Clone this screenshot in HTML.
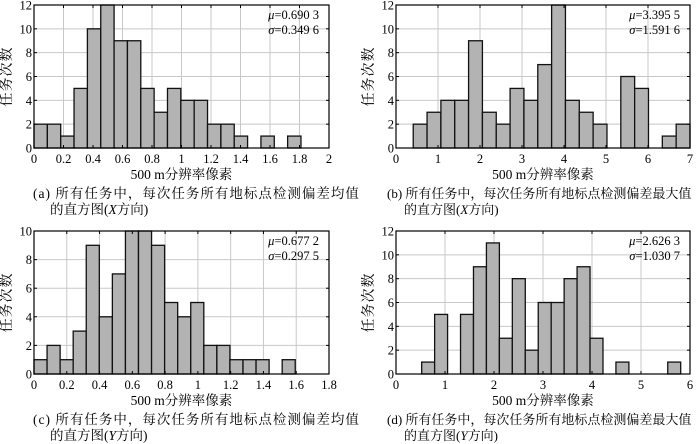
<!DOCTYPE html>
<html><head><meta charset="utf-8">
<style>
html,body{margin:0;padding:0;background:#fff;}
svg{display:block;}
text{font-family:"Liberation Serif","Noto Serif CJK SC",serif;fill:#000;}
</style></head>
<body>
<svg id="fig" width="700" height="444" viewBox="0 0 700 444" xmlns="http://www.w3.org/2000/svg"></svg>
<script>
// Panel data
const countsA = [2,2,1,5,10,12,9,9,5,3,5,4,4,2,2,1,0,1,0,1];
const countsB = [2,3,4,4,9,3,2,5,4,7,12,4,3,2,0,6,5,0,1,2];
const countsC = [1,2,1,3,9,4,7,10,10,9,5,4,5,2,2,1,1,1,0,1];
const countsD = [1,5,0,5,9,11,3,8,2,6,6,8,9,3,0,1,0,0,0,1];
const binStartA = 0, binWidthA = 0.0905;
const binStartB = 0.41, binWidthB = 0.3295;
const binStartC = 0, binWidthC = 0.0797;
const binStartD = 0.524, binWidthD = 0.2643;
const xTicksA = [0,0.2,0.4,0.6,0.8,1,1.2,1.4,1.6,1.8,2];
const xTicksB = [0,1,2,3,4,5,6,7];
const xTicksC = [0,0.2,0.4,0.6,0.8,1,1.2,1.4,1.6,1.8];
const xTicksD = [0,1,2,3,4,5,6];
const yTicksA = [0,2,4,6,8,10,12];
const yTicksC = [0,2,4,6,8,10];
const statsA = ["0.690 3","0.349 6"];
const statsB = ["3.395 5","1.591 6"];
const statsC = ["0.677 2","0.297 5"];
const statsD = ["2.626 3","1.030 7"];

const NS = "http://www.w3.org/2000/svg";
const svg = document.getElementById('fig');
function mk(tag, attrs, parent){
  const e = document.createElementNS(NS, tag);
  for (const k in attrs) e.setAttribute(k, attrs[k]);
  (parent||svg).appendChild(e);
  return e;
}
function panel(id, box, xmax, ymax, xticks, yticks, counts, start, width, stats, cap1, cap2, capX, capSp, capFs){
  const g = mk('g', {});
  
  
  const L = box[0], T = box[1], R = box[2], B = box[3];
  const sx = v => L + v / xmax * (R - L);
  const sy = v => B - v / ymax * (B - T);
  xticks.forEach(t => {
    const ln = mk('line', {x1:sx(t), x2:sx(t), y1:T, y2:B, stroke:'#c8c8c8', 'stroke-width':1}, g);
    
    
  });
  yticks.forEach(t => {
    const ln = mk('line', {x1:L, x2:R, y1:sy(t), y2:sy(t), stroke:'#c8c8c8', 'stroke-width':1}, g);
    
    
  });
  counts.forEach((c, i) => {
    if (c <= 0) return;
    const x0 = sx(start + i * width), x1 = sx(start + (i + 1) * width);
    const r = mk('rect', {x:x0, y:sy(c), width:x1 - x0, height:sy(0) - sy(c), fill:'#b3b3b3', stroke:'#111', 'stroke-width':1.3}, g);
    
    
  });
  const fr = mk('rect', {x:L, y:T, width:R - L, height:B - T, fill:'none', stroke:'#000', 'stroke-width':1.2}, g);
  
  
  xticks.forEach(t => {
    mk('line', {x1:sx(t), x2:sx(t), y1:B, y2:B - 3, stroke:'#000'}, g);
    mk('line', {x1:sx(t), x2:sx(t), y1:T, y2:T + 3, stroke:'#000'}, g);
    const tx = mk('text', {x:sx(t), y:B + 15, 'font-size':12.5, 'text-anchor':'middle'}, g);
    
    
    tx.textContent = String(t);
  });
  yticks.forEach(t => {
    mk('line', {x1:L, x2:L + 3, y1:sy(t), y2:sy(t), stroke:'#000'}, g);
    mk('line', {x1:R, x2:R - 3, y1:sy(t), y2:sy(t), stroke:'#000'}, g);
    const tx = mk('text', {x:L - 2, y:sy(t) + 4.5, 'font-size':12.5, 'text-anchor':'end'}, g);
    
    
    tx.textContent = String(t);
  });
  const s1 = mk('text', {x:R - 10, y:T + 14, 'font-size':12.5, 'text-anchor':'end'}, g);
  
  
  s1.innerHTML = '<tspan font-style="italic">μ</tspan>=' + stats[0];
  const s2 = mk('text', {x:R - 10, y:T + 29, 'font-size':12.5, 'text-anchor':'end'}, g);
  
  
  s2.innerHTML = '<tspan font-style="italic">σ</tspan>=' + stats[1];
  const cy = (T + B) / 2;
  const yl = mk('text', {x:0, y:0, 'font-size':14, 'letter-spacing':1, 'text-anchor':'middle', transform:'translate(' + (L - 23) + ',' + cy + ') rotate(-90)'}, g);
  
  
  yl.textContent = '任务次数';
  const xl = mk('text', {x:(L + R) / 2, y:B + 31, 'font-size':13.5, 'text-anchor':'middle'}, g);
  
  
  xl.textContent = '500 m分辨率像素';
  const c1 = mk('text', {x:capX, y:B + 50, 'font-size':capFs, 'letter-spacing':capSp}, g);
  
  
  c1.textContent = cap1;
  const c2 = mk('text', {x:capX + 17, y:B + 66, 'font-size':capFs}, g);
  
  
  c2.innerHTML = cap2;
}
panel('a', [34,5,329,148], 2, 12, xTicksA, yTicksA, countsA, binStartA, binWidthA, statsA,
  '(a) 所有任务中，每次任务所有地标点检测偏差均值', '的直方图(<tspan font-style="italic">X</tspan>方向)', 33, 1.0, 13.5);
panel('b', [396,5,690,148], 7, 12, xTicksB, yTicksA, countsB, binStartB, binWidthB, statsB,
  '(b) 所有任务中，每次任务所有地标点检测偏差最大值', '的直方图(<tspan font-style="italic">X</tspan>方向)', 387, 0, 13);
panel('c', [34,231,329,374], 1.8, 10, xTicksC, yTicksC, countsC, binStartC, binWidthC, statsC,
  '(c) 所有任务中，每次任务所有地标点检测偏差均值', '的直方图(<tspan font-style="italic">Y</tspan>方向)', 33, 1.0, 13.5);
panel('d', [396,231,690,374], 6, 12, xTicksD, yTicksA, countsD, binStartD, binWidthD, statsD,
  '(d) 所有任务中，每次任务所有地标点检测偏差最大值', '的直方图(<tspan font-style="italic">Y</tspan>方向)', 387, 0, 13);
</script>
</body></html>
